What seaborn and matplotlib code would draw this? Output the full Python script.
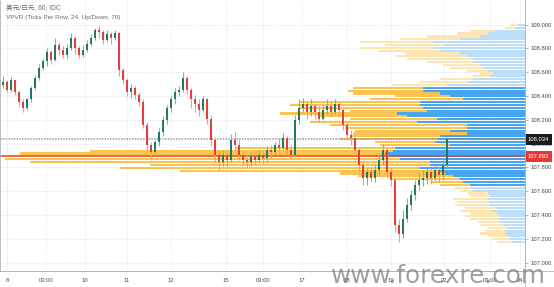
import numpy as np
import pandas as pd
import matplotlib
matplotlib.use("Agg")
import matplotlib.pyplot as plt
import matplotlib.transforms as mtransforms
from matplotlib.lines import Line2D
import seaborn as sns

# ---------------- data (USD/JPY 60 min) ----------------
first_open = 108.49
close = [108.52, 108.45, 108.53, 108.43, 108.35, 108.30, 108.37, 108.47, 108.55, 108.635,
         108.69, 108.77, 108.70, 108.83, 108.79, 108.74, 108.80, 108.89, 108.80, 108.74,
         108.79, 108.84, 108.89, 108.95, 108.94, 108.87, 108.92, 108.89, 108.93, 108.62,
         108.53, 108.43, 108.47, 108.41, 108.35, 108.155, 107.99, 107.93, 108.01, 108.10,
         108.20, 108.30, 108.37, 108.43, 108.45, 108.55, 108.45, 108.37, 108.33, 108.28,
         108.37, 108.21, 108.03, 107.90, 107.845, 107.90, 107.86, 108.03, 107.99, 107.90,
         107.86, 107.845, 107.895, 107.86, 107.90, 107.88, 107.945, 107.93, 107.99, 107.96,
         108.05, 107.945, 107.90, 108.20, 108.30, 108.33, 108.265, 108.315, 108.265, 108.21,
         108.28, 108.315, 108.265, 108.33, 108.28, 108.155, 108.07, 108.05, 107.945, 107.82,
         107.71, 107.76, 107.71, 107.78, 107.86, 107.945, 107.76, 107.69, 107.315, 107.24,
         107.37, 107.48, 107.57, 107.65, 107.69, 107.71, 107.76, 107.71, 107.78, 107.735,
         107.82, 108.034]
high = [108.57, 108.53, 108.56, 108.53, 108.45, 108.37, 108.38, 108.48, 108.58, 108.67,
        108.72, 108.80, 108.79, 108.89, 108.85, 108.82, 108.84, 108.93, 108.90, 108.82,
        108.83, 108.87, 108.92, 108.97, 108.99, 108.95, 108.95, 108.94, 108.95, 108.94,
        108.635, 108.55, 108.50, 108.48, 108.43, 108.37, 108.18, 108.01, 108.03, 108.13,
        108.23, 108.32, 108.40, 108.47, 108.48, 108.60, 108.57, 108.47, 108.41, 108.37,
        108.40, 108.38, 108.24, 108.05, 107.945, 107.945, 107.945, 108.08, 108.10, 108.03,
        107.945, 107.90, 107.93, 107.93, 107.945, 107.945, 107.98, 107.99, 108.01, 108.05,
        108.09, 108.06, 107.99, 108.24, 108.37, 108.38, 108.35, 108.37, 108.33, 108.315,
        108.32, 108.37, 108.35, 108.37, 108.35, 108.30, 108.18, 108.11, 108.06, 107.96,
        107.86, 107.795, 107.795, 107.82, 107.90, 108.00, 107.96, 107.795, 107.71, 107.37,
        107.44, 107.54, 107.61, 107.69, 107.76, 107.78, 107.795, 107.795, 107.82, 107.81,
        107.86, 108.07]
low = [108.47, 108.43, 108.43, 108.41, 108.315, 108.265, 108.28, 108.35, 108.45, 108.53,
       108.62, 108.65, 108.67, 108.69, 108.74, 108.72, 108.72, 108.79, 108.75, 108.72,
       108.73, 108.77, 108.82, 108.87, 108.89, 108.84, 108.85, 108.84, 108.87, 108.57,
       108.50, 108.40, 108.38, 108.37, 108.315, 108.13, 107.945, 107.86, 107.895, 107.98,
       108.06, 108.16, 108.265, 108.33, 108.40, 108.43, 108.42, 108.30, 108.265, 108.23,
       108.265, 108.16, 107.98, 107.845, 107.78, 107.81, 107.81, 107.845, 107.945, 107.86,
       107.81, 107.795, 107.81, 107.83, 107.845, 107.83, 107.845, 107.88, 107.90, 107.93,
       107.945, 107.90, 107.88, 107.887, 108.16, 108.265, 108.21, 108.23, 108.21, 108.18,
       108.20, 108.25, 108.23, 108.25, 108.23, 108.11, 108.03, 107.99, 107.895, 107.76,
       107.65, 107.65, 107.677, 107.677, 107.735, 107.82, 107.71, 107.643, 107.256, 107.17,
       107.206, 107.34, 107.44, 107.525, 107.61, 107.643, 107.66, 107.66, 107.69, 107.677,
       107.69, 107.795]

# VPVR rows (24 ticks = 0.024 per row), volumes bottom row first
row_low = 107.160
row_step = 0.024
up_vol = [13, 15, 17, 20, 20, 18, 22, 25, 27, 25, 28, 33, 30, 35, 37, 38, 35, 37, 52, 55,
          55, 62, 65, 72, 80, 85, 105, 95, 95, 125, 135, 140, 132, 130, 75, 90, 88, 85, 58, 75,
          58, 58, 108, 88, 118, 128, 98, 102, 105, 105, 62, 75, 85, 102, 102, 78, 58, 52, 35, 32,
          37, 42, 45, 52, 52, 58, 65, 85, 92, 80, 92, 65, 45, 37, 30, 10, 7]
down_vol = [15, 17, 20, 25, 20, 20, 23, 22, 28, 35, 27, 32, 30, 35, 31, 34, 20, 20, 13, 15,
            30, 33, 70, 95, 105, 260, 300, 280, 400, 395, 390, 365, 303, 160, 70, 60, 97, 90, 114, 95,
            122, 137, 107, 87, 87, 117, 77, 123, 130, 120, 93, 55, 87, 75, 70, 55, 47, 33, 17, 13,
            21, 33, 37, 46, 66, 72, 55, 62, 73, 60, 73, 60, 53, 31, 25, 10, 8]
value_area_rows = (20, 54)

x_tick_pos = [1, 10.75, 20.5, 31, 42, 55.75, 65, 74.75, 86, 97, 110.25, 121.75, 129.25]
x_tick_lab = ["8", "03:00", "10", "11", "12", "15", "03:00", "17", "18", "19", "22", "03:00", "24"]
y_ticks = [107.0, 107.2, 107.4, 107.6, 107.8, 108.0, 108.2, 108.4, 108.6, 108.8, 109.0]

last_price = 108.034
line_price = 107.892

title1 = "美元/日元, 60, IDC"
title2 = "VPVR (Ticks Per Row, 24, Up/Down, 70)"
watermark = "www.forexre.com"

# ---------------- styling ----------------
sns.set_theme(style="white")
plt.rcParams["font.family"] = ["Liberation Sans", "Noto Sans CJK SC", "DejaVu Sans"]

W, H = 554, 287
fig = plt.figure(figsize=(W / 100, H / 100), dpi=100)
fig.patch.set_facecolor("white")
rect = [0.0, 16 / H, 525 / W, 271 / H]
ax2 = fig.add_axes(rect)               # volume profile layer
ax = fig.add_axes(rect, sharey=ax2)    # candle layer
ax.patch.set_visible(False)

YLIM = (106.929, 109.206)
XLIM = (-0.75, 130.5)

# ---- volume profile via seaborn ----
n_rows = len(up_vol)
centers = np.round(row_low + row_step * (np.arange(n_rows) + 0.5), 4)
zone = ["va" if value_area_rows[0] <= k <= value_area_rows[1] else "out" for k in range(n_rows)]
prof = pd.DataFrame({"price": centers,
                     "up": up_vol,
                     "total": np.array(up_vol) + np.array(down_vol),
                     "zone": zone})
common = dict(orient="y", native_scale=True, dodge=False, saturation=1,
              errorbar=None, legend=False, width=0.76, linewidth=0, ax=ax2)
sns.barplot(data=prof, x="total", y="price", hue="zone",
            palette={"va": "#fac453", "out": "#fde6b3"}, **common)
sns.barplot(data=prof, x="up", y="price", hue="zone",
            palette={"va": "#47a4ed", "out": "#bcdef8"}, **common)
ax2.set_xlim(525, 0)
ax2.set_xlabel("")
ax2.set_ylabel("")
ax2.xaxis.set_visible(False)
ax2.yaxis.set_visible(False)
for s in ax2.spines.values():
    s.set_visible(False)

# grid (under the profile)
grid_kw = dict(color="#d6e0ea", lw=0.6, ls=(0, (1, 1.6)), zorder=0)
for p in y_ticks:
    ax2.axhline(p, **grid_kw)
vtrans = mtransforms.blended_transform_factory(ax.transData, ax2.transAxes)
for xp in x_tick_pos:
    ax2.plot([xp, xp], [0, 1], transform=vtrans, **grid_kw)

# ---- candles ----
c = np.array(close)
o = np.array([first_open] + close[:-1])
hi = np.maximum(np.array(high), np.maximum(o, c))
lo = np.minimum(np.array(low), np.minimum(o, c))
xs = np.arange(len(c))
rising = c >= o
body_col = np.where(rising, "#237a60", "#e2403c")
wick_col = np.where(rising, "#7fb3a3", "#ef9a98")
ax.vlines(xs, lo, hi, colors=wick_col, lw=0.8, zorder=3)
ax.bar(xs, np.maximum(np.abs(c - o), 0.006), bottom=np.minimum(o, c), width=0.5,
       color=body_col, linewidth=0, zorder=4)

# price lines
ax.axhline(last_price, color="#8c8c8c", lw=1.1, ls=(0, (1, 0.8)), alpha=0.85, zorder=2)
ax.axhline(line_price, color="#e53935", lw=1.1, alpha=0.85, zorder=2)

ax.set_xlim(*XLIM)
ax.set_ylim(*YLIM)

# axes / ticks
ax.yaxis.tick_right()
ax.set_yticks(y_ticks)
ax.set_yticklabels([f"{v:.3f}" for v in y_ticks])
ax.set_xticks(x_tick_pos)
ax.set_xticklabels(x_tick_lab)
ax.tick_params(axis="y", labelsize=4.2, colors="#4a4a4a", length=2.5, width=0.5, pad=1.5)
ax.tick_params(axis="x", labelsize=4.2, colors="#4a4a4a", length=2.5, width=0.5, pad=2.5)
ax.tick_params(axis="both", color="#9a9a9a")
for name, s in ax.spines.items():
    s.set_visible(name in ("right", "bottom", "left"))
    s.set_color("#b4b4b4")
    s.set_linewidth(0.6)
ax.grid(False)
ax.set_xlabel("")
ax.set_ylabel("")

# price labels on the scale
lbl_tr = mtransforms.blended_transform_factory(ax.transAxes, ax.transData)
ax.text(1.0 + 3 / 525, last_price, f"{last_price:.3f}", transform=lbl_tr, ha="left", va="center",
        fontsize=4.2, color="white", clip_on=False, zorder=10,
        bbox=dict(boxstyle="square,pad=0.45", fc="#1c1c1c", ec="none"))
ax.text(1.0 + 3 / 525, line_price, f"{line_price:.3f}", transform=lbl_tr, ha="left", va="center",
        fontsize=4.2, color="white", clip_on=False, zorder=10,
        bbox=dict(boxstyle="square,pad=0.45", fc="#e53935", ec="none"))

# frame lines extending across the scale area
fig.add_artist(Line2D([0, 1], [16 / H, 16 / H], color="#b4b4b4", lw=0.6))
fig.add_artist(Line2D([525 / W, 525 / W], [0, 1], color="#b4b4b4", lw=0.6))

# titles
fig.text(6 / W, 1 - 9 / H, title1, fontsize=4.8, color="#6a6a6a", va="center", ha="left")
fig.text(6 / W, 1 - 17.5 / H, title2, fontsize=4.6, color="#6a6a6a", va="center", ha="left")

# watermark
fig.text(331 / W, 1 - 283 / H, watermark, fontsize=17.8, color="#7a7a7a", alpha=0.7,
         family="DejaVu Sans", ha="left", va="baseline", zorder=20)

fig.savefig("out.png", dpi=100)
